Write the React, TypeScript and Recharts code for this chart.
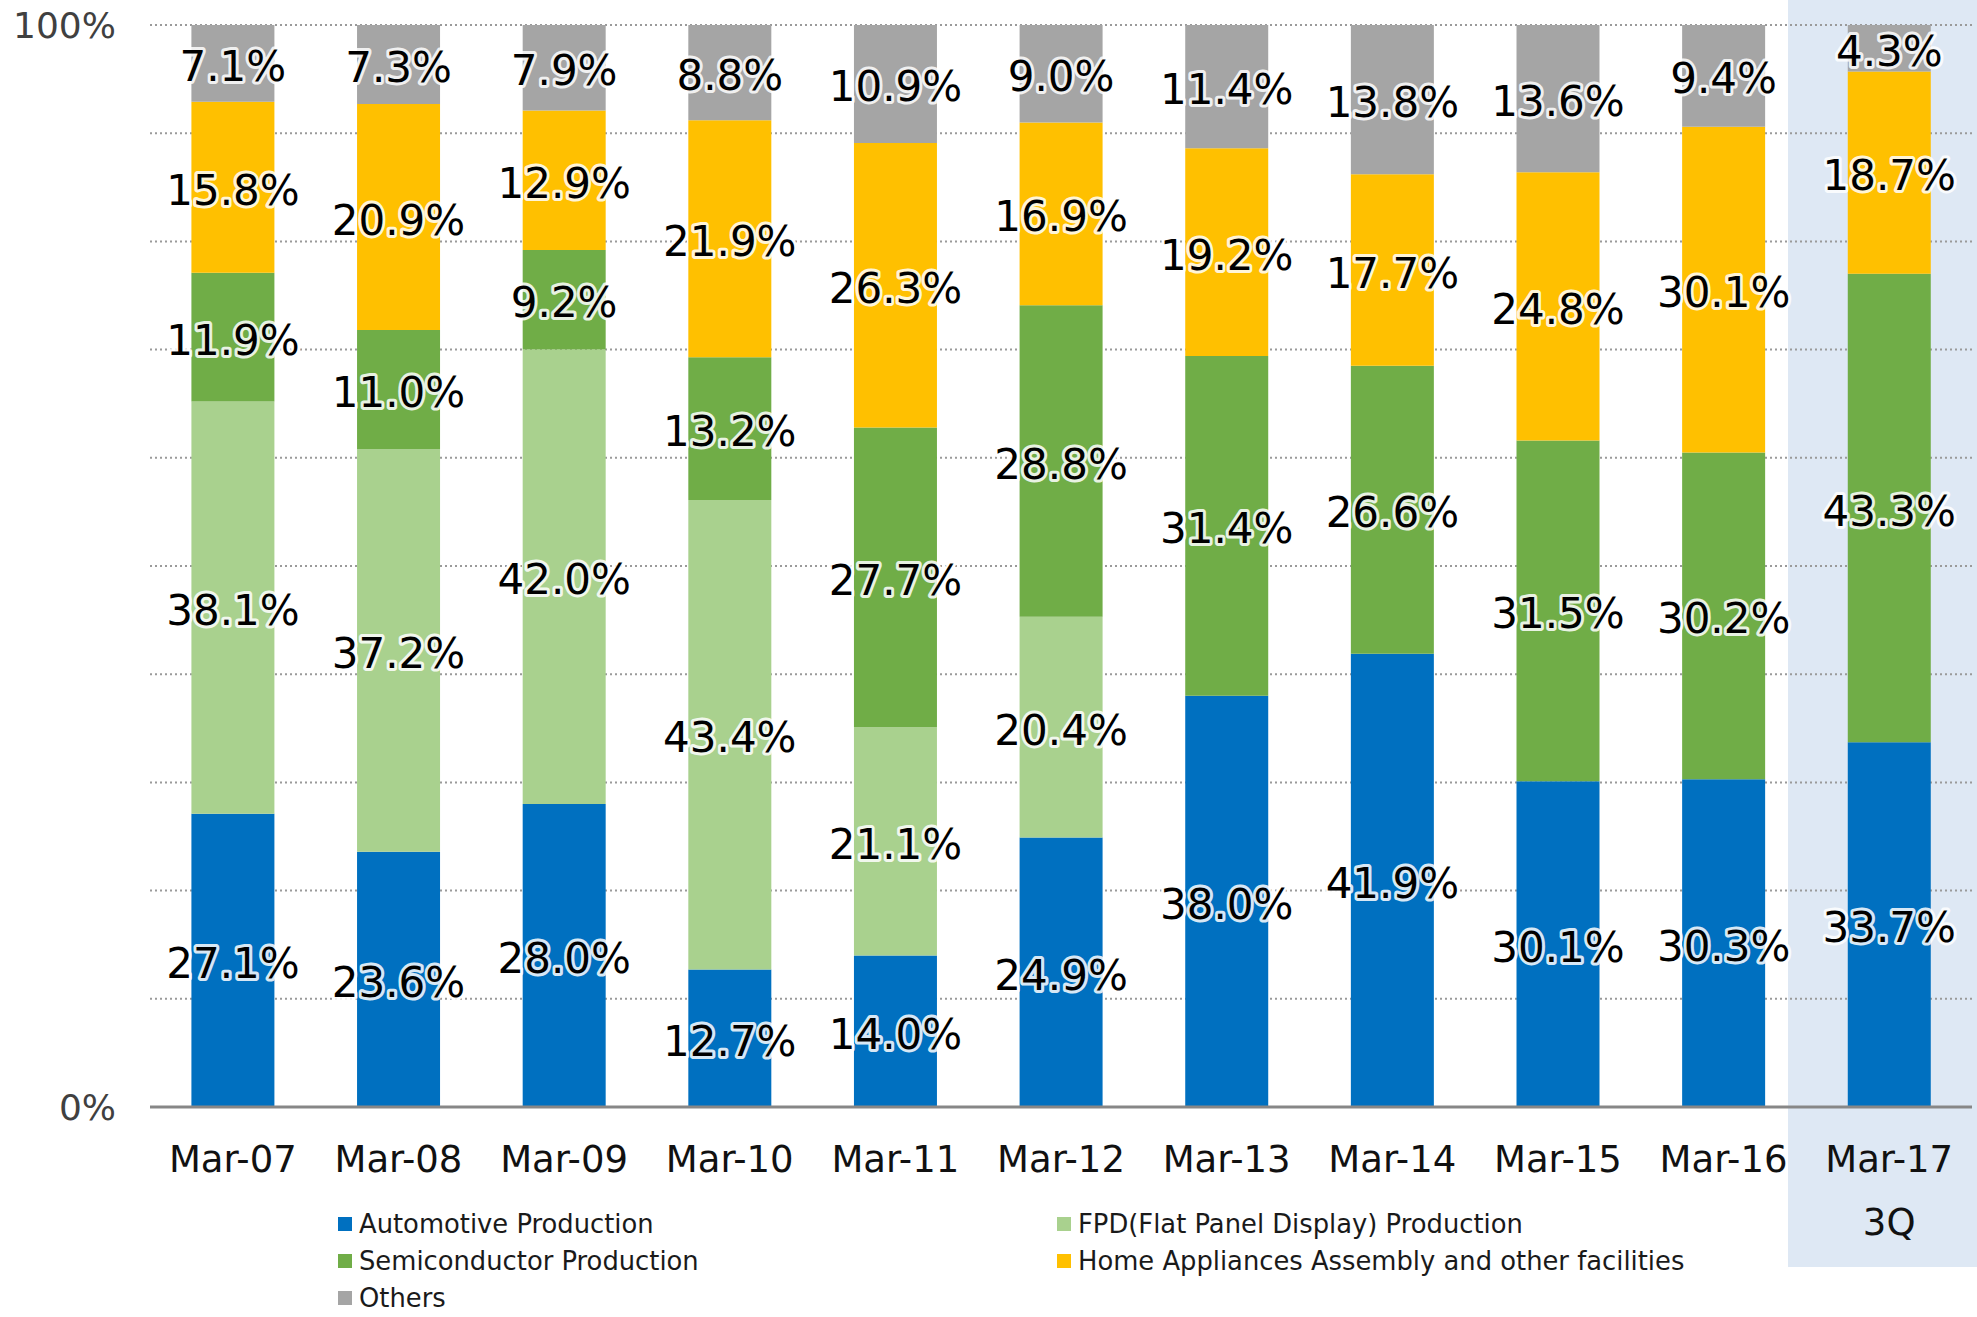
import React from 'react';
import { BarChart, Bar, XAxis, YAxis, CartesianGrid, LabelList } from 'recharts';

const categories = ['Mar-07', 'Mar-08', 'Mar-09', 'Mar-10', 'Mar-11', 'Mar-12', 'Mar-13', 'Mar-14', 'Mar-15', 'Mar-16', 'Mar-17 3Q'];
const automotive = [27.1, 23.6, 28.0, 12.7, 14.0, 24.9, 38.0, 41.9, 30.1, 30.3, 33.7];
const fpd = [38.1, 37.2, 42.0, 43.4, 21.1, 20.4, 0, 0, 0, 0, 0];
const semiconductor = [11.9, 11.0, 9.2, 13.2, 27.7, 28.8, 31.4, 26.6, 31.5, 30.2, 43.3];
const homeAppliances = [15.8, 20.9, 12.9, 21.9, 26.3, 16.9, 19.2, 17.7, 24.8, 30.1, 18.7];
const others = [7.1, 7.3, 7.9, 8.8, 10.9, 9.0, 11.4, 13.8, 13.6, 9.4, 4.3];
const yTicks = [0, 10, 20, 30, 40, 50, 60, 70, 80, 90, 100];

const series = [
  { key: 'automotive', name: 'Automotive Production', color: '#0070C0', values: automotive },
  { key: 'fpd', name: 'FPD(Flat Panel Display) Production', color: '#A9D18E', values: fpd },
  { key: 'semiconductor', name: 'Semiconductor Production', color: '#70AD47', values: semiconductor },
  { key: 'home', name: 'Home Appliances Assembly and other facilities', color: '#FFC000', values: homeAppliances },
  { key: 'others', name: 'Others', color: '#A5A5A5', values: others },
];

const chartData = categories.map((cat, i) => {
  const row: Record<string, string | number> = { cat };
  series.forEach((s) => {
    row[s.key] = s.values[i];
  });
  return row;
});

const FONT = '"DejaVu Sans", Verdana, sans-serif';

const SegmentLabel = (props: any) => {
  const { x, y, width, height, value } = props;
  if (!value) return null;
  return (
    <text
      x={Number(x) + Number(width) / 2}
      y={Number(y) + Number(height) / 2 + 3}
      textAnchor="middle"
      dominantBaseline="central"
      fontFamily={FONT}
      fontSize={42}
      fill="#000"
      stroke="#fff"
      strokeWidth={6}
      strokeOpacity={0.85}
      strokeLinejoin="round"
      paintOrder="stroke"
    >
      {Number(value).toFixed(1)}%
    </text>
  );
};

const XTick = (props: any) => {
  const { x, y, payload } = props;
  const parts = String(payload.value).split(' ');
  return (
    <g transform={`translate(${x},${y})`}>
      {parts.map((p, i) => (
        <text key={i} x={0} y={44 + i * 63} textAnchor="middle" dominantBaseline="central" fontFamily={FONT} fontSize={37} fill="#111">
          {p}
        </text>
      ))}
    </g>
  );
};

const YTick = (props: any) => {
  const { x, y, payload } = props;
  if (payload.value !== 0 && payload.value !== 100) return null;
  return (
    <text x={x} y={y} textAnchor="end" dominantBaseline="central" fontFamily={FONT} fontSize={36} fill="#404040">
      {payload.value}%
    </text>
  );
};

export default function App() {
  return (
    <div style={{ position: 'absolute', left: 0, top: 0, width: 1977, height: 1317, background: '#fff', overflow: 'hidden' }}>
      <div style={{ position: 'absolute', left: 1788, top: 0, width: 189, height: 1267, background: '#DEE8F4' }} />
      <div style={{ position: 'absolute', left: 0, top: 0 }}>
        <BarChart width={1977} height={1317} data={chartData} margin={{ top: 25, right: 5, left: 0, bottom: 0 }} barCategoryGap="25%">
          <CartesianGrid vertical={false} stroke="#9a9a9a" strokeWidth={2} strokeDasharray="2 3" />
          <XAxis dataKey="cat" height={210} tick={<XTick />} tickLine={false} axisLine={{ stroke: '#878787', strokeWidth: 3 }} interval={0} />
          <YAxis width={150} domain={[0, 100]} ticks={yTicks} tick={<YTick />} tickLine={false} tickSize={0} tickMargin={34} axisLine={false} />
          {series.map((s) => (
            <Bar key={s.key} dataKey={s.key} name={s.name} stackId="a" fill={s.color} isAnimationActive={false}>
              <LabelList dataKey={s.key} content={<SegmentLabel />} />
            </Bar>
          ))}
        </BarChart>
      </div>
      <div
        style={{
          position: 'absolute',
          left: 338,
          top: 1211,
          display: 'grid',
          gridTemplateColumns: '719px auto',
          gridAutoRows: 26,
          rowGap: 11,
          fontFamily: FONT,
          fontSize: 25.8,
          lineHeight: '26px',
          color: '#1a1a1a',
        }}
      >
        {series.map((s) => (
          <div key={s.key} style={{ display: 'flex', alignItems: 'center', height: 26, whiteSpace: 'nowrap' }}>
            <span style={{ width: 14, height: 14, background: s.color, marginRight: 7, display: 'inline-block' }} />
            {s.name}
          </div>
        ))}
      </div>
    </div>
  );
}
